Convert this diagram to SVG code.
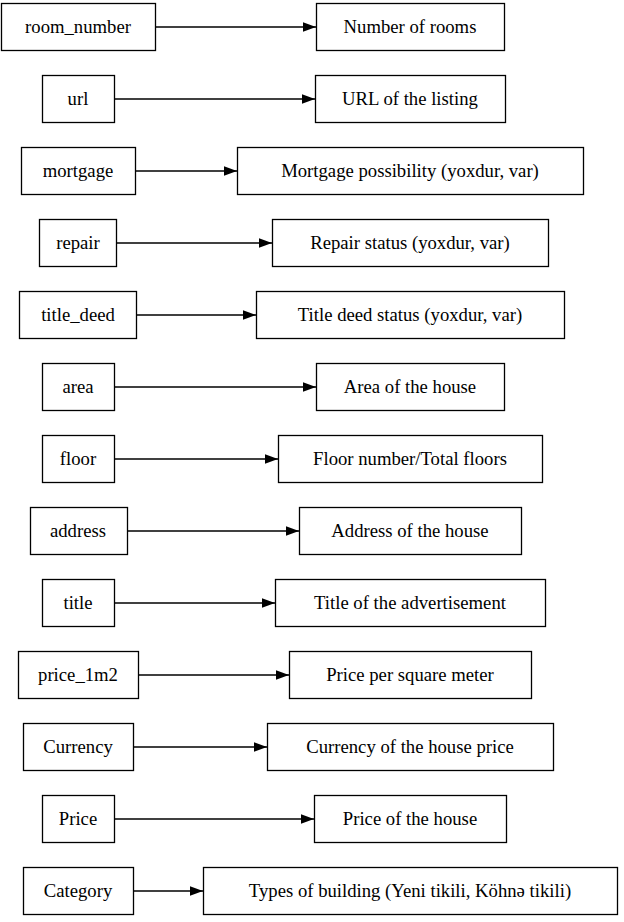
<svg xmlns="http://www.w3.org/2000/svg" width="624" height="922" viewBox="0 0 624 922">
<style>
rect{fill:#fff;stroke:#000;stroke-width:1.3}
text{font-family:"Liberation Serif","Times New Roman",serif;font-size:18.7px;text-anchor:middle;fill:#000}
.e line{stroke:#000;stroke-width:1.3}
</style>
<defs>
<marker id="ah" markerWidth="13" markerHeight="10" refX="13" refY="5" orient="auto" markerUnits="userSpaceOnUse">
<path d="M0,0.3 L13,5 L0,9.7 Z" fill="#000"/>
</marker>
</defs>
<rect width="624" height="922" style="fill:#fff;stroke:none"/>
<g class="e" id="connectors">
<line x1="155" y1="27" x2="316" y2="27" marker-end="url(#ah)"/>
<line x1="114" y1="99" x2="315" y2="99" marker-end="url(#ah)"/>
<line x1="135" y1="171" x2="237" y2="171" marker-end="url(#ah)"/>
<line x1="116" y1="243" x2="272" y2="243" marker-end="url(#ah)"/>
<line x1="136" y1="315" x2="256" y2="315" marker-end="url(#ah)"/>
<line x1="114" y1="387" x2="316" y2="387" marker-end="url(#ah)"/>
<line x1="114" y1="459" x2="278" y2="459" marker-end="url(#ah)"/>
<line x1="127" y1="531" x2="299" y2="531" marker-end="url(#ah)"/>
<line x1="114" y1="603" x2="275" y2="603" marker-end="url(#ah)"/>
<line x1="138" y1="675" x2="289" y2="675" marker-end="url(#ah)"/>
<line x1="133" y1="747" x2="267" y2="747" marker-end="url(#ah)"/>
<line x1="114" y1="819" x2="314" y2="819" marker-end="url(#ah)"/>
<line x1="133" y1="891" x2="203" y2="891" marker-end="url(#ah)"/>
</g>
<g id="room_number"><rect x="1.5" y="3.5" width="154" height="47"/><text x="78" y="33">room_number</text></g>
<g id="room_number_desc"><rect x="316.5" y="3.5" width="188" height="47"/><text x="410" y="33">Number of rooms</text></g>
<g id="url"><rect x="42.5" y="75.5" width="72" height="47"/><text x="78" y="105">url</text></g>
<g id="url_desc"><rect x="315.5" y="75.5" width="190" height="47"/><text x="410" y="105">URL of the listing</text></g>
<g id="mortgage"><rect x="21.5" y="147.5" width="114" height="47"/><text x="78" y="177">mortgage</text></g>
<g id="mortgage_desc"><rect x="237.5" y="147.5" width="346" height="47"/><text x="410" y="177">Mortgage possibility (yoxdur, var)</text></g>
<g id="repair"><rect x="39.5" y="219.5" width="77" height="47"/><text x="78" y="249">repair</text></g>
<g id="repair_desc"><rect x="272.5" y="219.5" width="276" height="47"/><text x="410" y="249">Repair status (yoxdur, var)</text></g>
<g id="title_deed"><rect x="19.5" y="291.5" width="117" height="47"/><text x="78" y="321">title_deed</text></g>
<g id="title_deed_desc"><rect x="256.5" y="291.5" width="308" height="47"/><text x="410" y="321">Title deed status (yoxdur, var)</text></g>
<g id="area"><rect x="42.5" y="363.5" width="72" height="47"/><text x="78" y="393">area</text></g>
<g id="area_desc"><rect x="316.5" y="363.5" width="188" height="47"/><text x="410" y="393">Area of the house</text></g>
<g id="floor"><rect x="42.5" y="435.5" width="72" height="47"/><text x="78" y="465">floor</text></g>
<g id="floor_desc"><rect x="278.5" y="435.5" width="264" height="47"/><text x="410" y="465">Floor number/Total floors</text></g>
<g id="address"><rect x="30.5" y="507.5" width="97" height="47"/><text x="78" y="537">address</text></g>
<g id="address_desc"><rect x="299.5" y="507.5" width="222" height="47"/><text x="410" y="537">Address of the house</text></g>
<g id="title"><rect x="42.5" y="579.5" width="72" height="47"/><text x="78" y="609">title</text></g>
<g id="title_desc"><rect x="275.5" y="579.5" width="270" height="47"/><text x="410" y="609">Title of the advertisement</text></g>
<g id="price_1m2"><rect x="18.5" y="651.5" width="120" height="47"/><text x="78" y="681">price_1m2</text></g>
<g id="price_1m2_desc"><rect x="289.5" y="651.5" width="242" height="47"/><text x="410" y="681">Price per square meter</text></g>
<g id="Currency"><rect x="23.5" y="723.5" width="110" height="47"/><text x="78" y="753">Currency</text></g>
<g id="Currency_desc"><rect x="267.5" y="723.5" width="286" height="47"/><text x="410" y="753">Currency of the house price</text></g>
<g id="Price"><rect x="42.5" y="795.5" width="72" height="47"/><text x="78" y="825">Price</text></g>
<g id="Price_desc"><rect x="314.5" y="795.5" width="192" height="47"/><text x="410" y="825">Price of the house</text></g>
<g id="Category"><rect x="23.5" y="867.5" width="110" height="47"/><text x="78" y="897">Category</text></g>
<g id="Category_desc"><rect x="203.5" y="867.5" width="414" height="47"/><text x="410" y="897">Types of building (Yeni tikili, Köhnə tikili)</text></g>
</svg>
